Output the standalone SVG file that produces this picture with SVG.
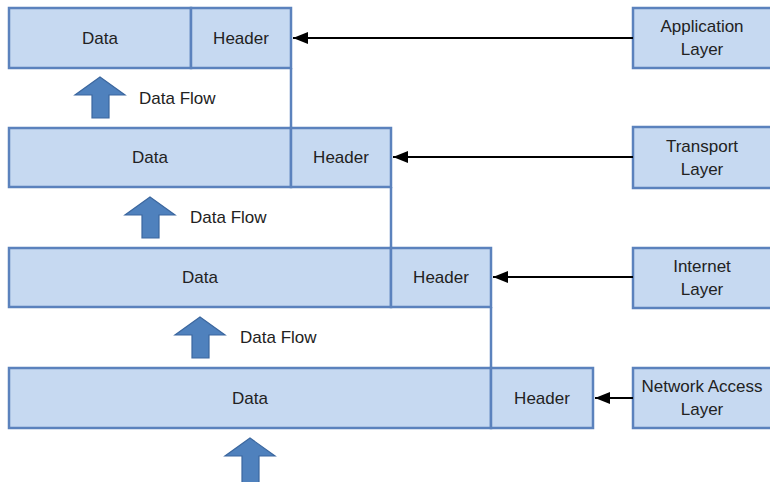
<svg xmlns="http://www.w3.org/2000/svg" width="770" height="482" viewBox="0 0 770 482">
<defs>
<style>
.box{fill:#c6d9f1;stroke:#5b82bd;stroke-width:2.5}
.div{stroke:#5b82bd;stroke-width:2.5;fill:none}
.t{font-family:"Liberation Sans",Arial,sans-serif;font-size:17px;fill:#222;text-anchor:middle}
.tl{font-family:"Liberation Sans",Arial,sans-serif;font-size:17px;fill:#222}
.tr{font-family:"Liberation Sans",Arial,sans-serif;font-size:17px;fill:#222;text-anchor:middle}
.conn{stroke:#000;stroke-width:2.2;fill:none;marker-end:url(#ah)}
.flow{fill:#4f81bd;stroke:#3b679f;stroke-width:1.2}
</style>
<marker id="ah" markerWidth="16" markerHeight="12" refX="15" refY="6" orient="auto" markerUnits="userSpaceOnUse">
<path d="M0,0 L15,6 L0,12 Z" fill="#000"/>
</marker>
<path id="uparrow" d="M0,0 L25,18 L9,18 L9,41 L-8,41 L-8,18 L-25,18 Z"/>
</defs>
<rect width="770" height="482" fill="#fff"/>

<g id="row1">
<g id="row1-data"><rect class="box" x="9" y="8" width="182" height="60"/><text class="t" x="100" y="44">Data</text></g>
<g id="row1-header"><rect class="box" x="191" y="8" width="100" height="60"/><text class="t" x="241" y="44">Header</text></g>
</g>
<g id="row2">
<g id="row2-data"><rect class="box" x="9" y="128" width="282" height="59"/><text class="t" x="150" y="163">Data</text></g>
<g id="row2-header"><rect class="box" x="291" y="128" width="100" height="59"/><text class="t" x="341" y="163">Header</text></g>
</g>
<g id="row3">
<g id="row3-data"><rect class="box" x="9" y="248" width="382" height="59"/><text class="t" x="200" y="283">Data</text></g>
<g id="row3-header"><rect class="box" x="391" y="248" width="100" height="59"/><text class="t" x="441" y="283">Header</text></g>
</g>
<g id="row4">
<g id="row4-data"><rect class="box" x="9" y="368" width="482" height="60"/><text class="t" x="250" y="404">Data</text></g>
<g id="row4-header"><rect class="box" x="491" y="368" width="102" height="60"/><text class="t" x="542" y="404">Header</text></g>
</g>

<g id="dividers">
<line class="div" x1="291" y1="68" x2="291" y2="128"/>
<line class="div" x1="391" y1="187" x2="391" y2="248"/>
<line class="div" x1="491" y1="307" x2="491" y2="368"/>
</g>

<g id="layer-application"><rect class="box" x="633" y="8" width="140" height="60"/><text class="tr" x="702" y="32">Application</text><text class="tr" x="702" y="55">Layer</text></g>
<g id="layer-transport"><rect class="box" x="633" y="127" width="140" height="61"/><text class="tr" x="702" y="152">Transport</text><text class="tr" x="702" y="175">Layer</text></g>
<g id="layer-internet"><rect class="box" x="633" y="248" width="140" height="60"/><text class="tr" x="702" y="272">Internet</text><text class="tr" x="702" y="295">Layer</text></g>
<g id="layer-network"><rect class="box" x="633" y="368" width="140" height="60"/><text class="tr" x="702" y="392">Network Access</text><text class="tr" x="702" y="415">Layer</text></g>

<g id="connectors">
<line class="conn" x1="633" y1="38" x2="293" y2="38"/>
<line class="conn" x1="633" y1="157" x2="393" y2="157"/>
<line class="conn" x1="633" y1="277" x2="493" y2="277"/>
<line class="conn" x1="633" y1="398" x2="595" y2="398"/>
</g>

<g id="flow1"><use href="#uparrow" class="flow" x="100" y="77"/><text class="tl" x="139" y="104">Data Flow</text></g>
<g id="flow2"><use href="#uparrow" class="flow" x="150" y="197"/><text class="tl" x="190" y="223">Data Flow</text></g>
<g id="flow3"><use href="#uparrow" class="flow" x="200" y="317"/><text class="tl" x="240" y="343">Data Flow</text></g>
<g id="flow4"><path class="flow" d="M250,438 L275,456 L259,456 L259,484 L242,484 L242,456 L225,456 Z"/></g>
</svg>
